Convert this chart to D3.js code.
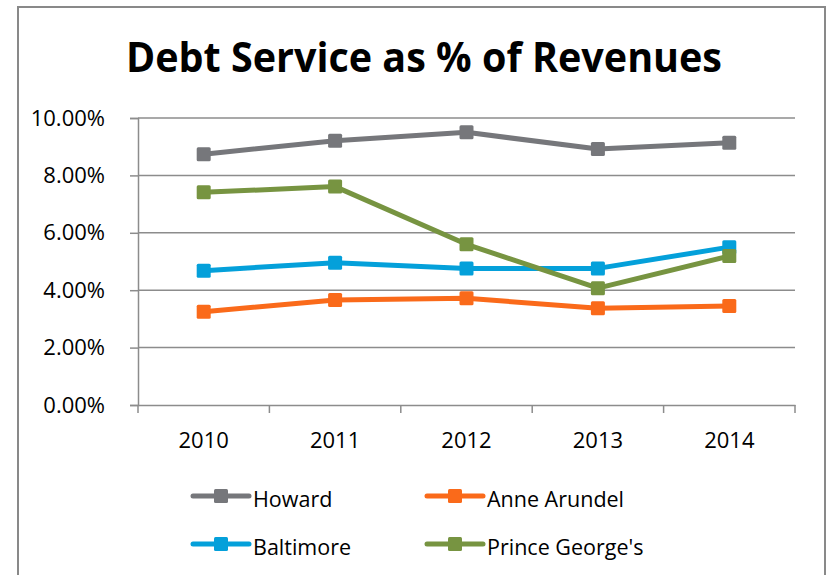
<!DOCTYPE html>
<html>
<head>
<meta charset="utf-8">
<script src="https://cdn.jsdelivr.net/npm/d3@7"></script>
<style>
  html, body { margin: 0; padding: 0; background: #fff; }
  svg { display: block; }
  text { font-family: "Open Sans", "Liberation Sans", sans-serif; fill: #000; }
</style>
</head>
<body>
<svg id="chart" width="830" height="575"></svg>
<script>
// Fiscal years on the category axis
const years = ["2010", "2011", "2012", "2013", "2014"];

// Debt service as a share of revenues (%), one array per county
const howard = [8.74, 9.21, 9.50, 8.92, 9.14];
const anneArundel = [3.25, 3.66, 3.72, 3.37, 3.45];
const baltimore = [4.68, 4.96, 4.76, 4.76, 5.50];
const princeGeorges = [7.41, 7.61, 5.60, 4.07, 5.19];

const seriesNames = ["Howard", "Anne Arundel", "Baltimore", "Prince George's"];
const seriesColors = ["#76777b", "#fa6a1a", "#04a0da", "#779441"];

// Y-axis tick values (%)
const yTicks = [0, 2, 4, 6, 8, 10];

const series = [howard, anneArundel, baltimore, princeGeorges].map((vals, i) => ({
  name: seriesNames[i], color: seriesColors[i],
  points: vals.map((v, j) => ({ year: years[j], value: v }))
}));

const svg = d3.select("#chart");

// Outer chart frame
svg.append("rect")
  .attr("x", 18).attr("y", 7).attr("width", 807).attr("height", 600)
  .attr("fill", "none").attr("stroke", "#898989").attr("stroke-width", 2);

// Title
svg.append("text")
  .attr("x", 424).attr("y", 72)
  .attr("text-anchor", "middle")
  .attr("font-family", "Liberation Sans, sans-serif")
  .attr("font-size", 42).attr("font-weight", "bold")
  .attr("textLength", 596).attr("lengthAdjust", "spacingAndGlyphs")
  .text("Debt Service as % of Revenues");

const plot = { left: 138, right: 795, top: 118, bottom: 405 };

const x = d3.scaleBand().domain(years).range([plot.left, plot.right]);
const y = d3.scaleLinear().domain([0, 10]).range([plot.bottom, plot.top]);

// Horizontal gridlines
svg.append("g")
  .selectAll("line")
  .data(yTicks.filter(t => t > 0))
  .join("line")
  .attr("x1", plot.left).attr("x2", plot.right)
  .attr("y1", d => y(d)).attr("y2", d => y(d))
  .attr("stroke", "#8c8c8c").attr("stroke-width", 1.5);

// Y axis
const yAxis = svg.append("g")
  .attr("transform", `translate(${plot.left},0)`)
  .call(d3.axisLeft(y).tickValues(yTicks).tickSize(8).tickPadding(25)
    .tickFormat(d => d.toFixed(2) + "%"));
yAxis.select(".domain").attr("stroke", "#8c8c8c").attr("stroke-width", 1.5);
yAxis.selectAll(".tick line").attr("stroke", "#8c8c8c").attr("stroke-width", 1.5);
yAxis.selectAll(".tick text")
  .attr("font-size", 22).attr("font-family", "Open Sans, sans-serif").attr("fill", "#000");

// X axis with ticks on category boundaries
const xAxis = svg.append("g")
  .attr("transform", `translate(0,${plot.bottom})`)
  .call(d3.axisBottom(x).tickSize(0).tickPadding(27));
xAxis.select(".domain").attr("stroke", "#8c8c8c").attr("stroke-width", 1.5);
xAxis.selectAll(".tick text")
  .attr("font-size", 22).attr("font-family", "Open Sans, sans-serif").attr("fill", "#000");
const boundaries = years.map(yr => x(yr)).concat([x(years[years.length - 1]) + x.bandwidth()]);
svg.append("g").selectAll("line")
  .data(boundaries)
  .join("line")
  .attr("x1", d => d).attr("x2", d => d)
  .attr("y1", plot.bottom).attr("y2", plot.bottom + 8)
  .attr("stroke", "#8c8c8c").attr("stroke-width", 1.5);

const cx = d => x(d.year) + x.bandwidth() / 2;
const line = d3.line().x(cx).y(d => y(d.value));
const m = 14;

// Series lines and square markers
const g = svg.append("g").selectAll("g").data(series).join("g");
g.append("path")
  .attr("d", d => line(d.points))
  .attr("fill", "none")
  .attr("stroke", d => d.color)
  .attr("stroke-width", 5)
  .attr("stroke-linejoin", "round")
  .attr("stroke-linecap", "round");
g.each(function (s) {
  d3.select(this).selectAll("rect")
    .data(s.points)
    .join("rect")
    .attr("x", d => cx(d) - m / 2)
    .attr("y", d => y(d.value) - m / 2)
    .attr("width", m).attr("height", m)
    .attr("rx", 1.5)
    .attr("fill", s.color);
});

// Legend (two columns, two rows)
const legendPos = [
  { lx: 193, ly: 496 }, { lx: 427, ly: 496 },
  { lx: 193, ly: 544 }, { lx: 427, ly: 544 }
];
const lg = svg.append("g").selectAll("g").data(series).join("g")
  .attr("transform", (d, i) => `translate(${legendPos[i].lx},${legendPos[i].ly})`);
lg.append("line")
  .attr("x1", 0).attr("x2", 56).attr("y1", 0).attr("y2", 0)
  .attr("stroke", d => d.color).attr("stroke-width", 5).attr("stroke-linecap", "round");
lg.append("rect")
  .attr("x", 28 - m / 2).attr("y", -m / 2).attr("width", m).attr("height", m)
  .attr("rx", 1.5).attr("fill", d => d.color);
lg.append("text")
  .attr("x", 60).attr("y", 11)
  .attr("font-size", 21.5)
  .text(d => d.name);
</script>
</body>
</html>
